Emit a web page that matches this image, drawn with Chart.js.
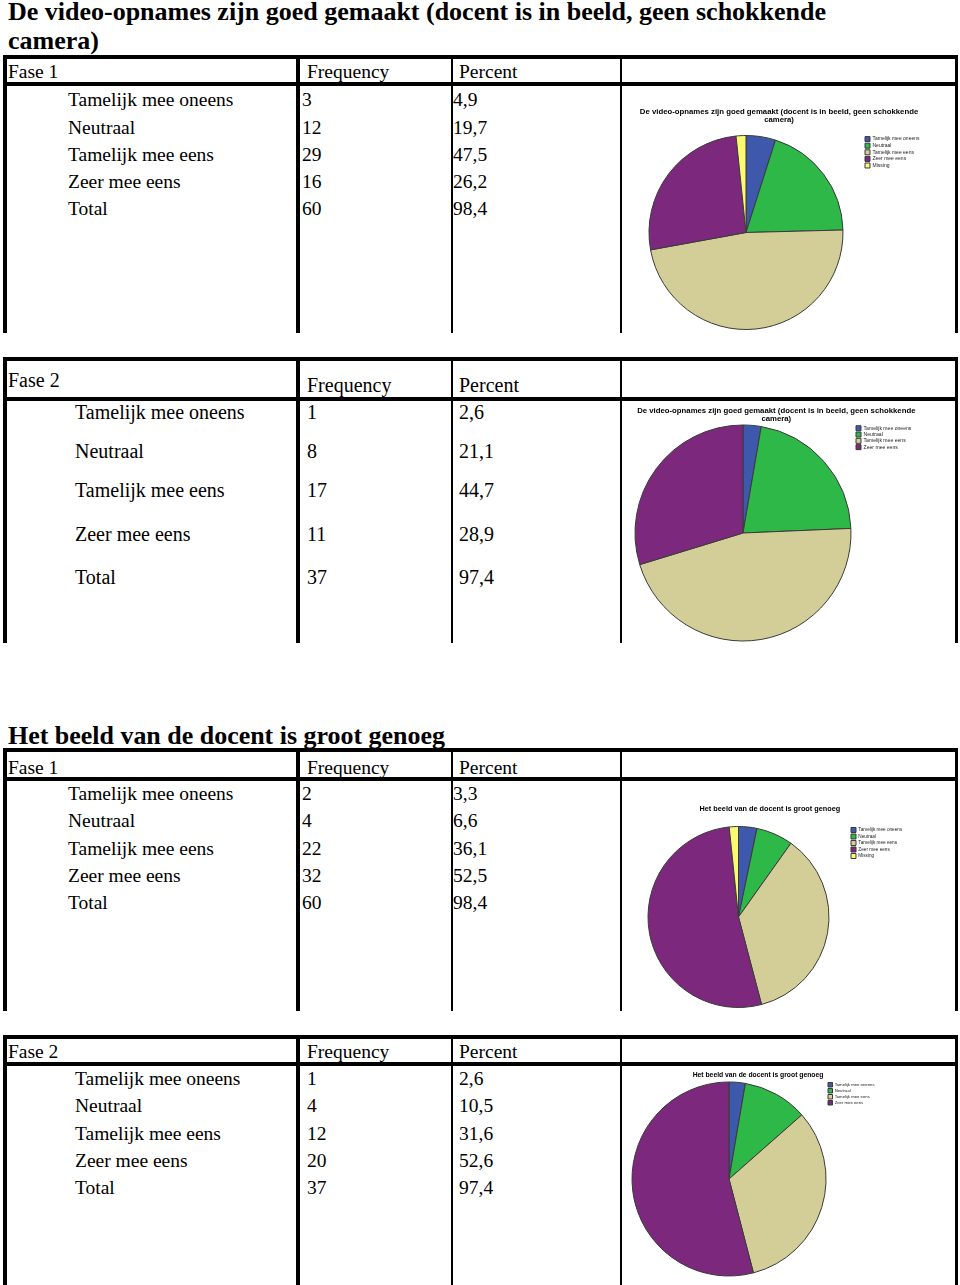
<!DOCTYPE html>
<html>
<head>
<meta charset="utf-8">
<script src="https://cdn.jsdelivr.net/npm/chart.js@4.4.1/dist/chart.umd.min.js"></script>
<style>
html, body { margin: 0; padding: 0; background: #fff; }
#page { position: relative; width: 960px; height: 1285px; overflow: hidden; }
.t { position: absolute; white-space: nowrap; line-height: 1; color: #000;
     font-family: "Liberation Serif", "Times New Roman", serif; transform-origin: 0 0; }
.h { font-weight: bold; }
.ln { position: absolute; background: #000; }
canvas { position: absolute; }
</style>
</head>
<body>
<div id="page"></div>
<script>
// antwoordcategorieën
const categories = ['Tamelijk mee oneens', 'Neutraal', 'Tamelijk mee eens', 'Zeer mee eens'];
const missingLabel = 'Missing';
const totalLabel = 'Total';
const headerFreq = 'Frequency';
const headerPct = 'Percent';

const question1 = ['De video-opnames zijn goed gemaakt (docent is in beeld, geen schokkende', 'camera)'];
const question2 = ['Het beeld van de docent is groot genoeg'];

// vraag 1 - fase 1
const q1f1Freq = [3, 12, 29, 16];
const q1f1Pct = [4.9, 19.7, 47.5, 26.2];
const q1f1Total = [60, 98.4];
const q1f1Missing = 1;

// vraag 1 - fase 2
const q1f2Freq = [1, 8, 17, 11];
const q1f2Pct = [2.6, 21.1, 44.7, 28.9];
const q1f2Total = [37, 97.4];

// vraag 2 - fase 1
const q2f1Freq = [2, 4, 22, 32];
const q2f1Pct = [3.3, 6.6, 36.1, 52.5];
const q2f1Total = [60, 98.4];
const q2f1Missing = 1;

// vraag 2 - fase 2
const q2f2Freq = [1, 4, 12, 20];
const q2f2Pct = [2.6, 10.5, 31.6, 52.6];
const q2f2Total = [37, 97.4];

// SPSS kleuren
const sliceColors = ['#3e58ac', '#2eb848', '#d3ce97', '#7c287d', '#fbf873'];

const page = document.getElementById('page');
const measureCtx = document.createElement('canvas').getContext('2d');

function fmt(v) {
    return String(v).replace('.', ',');
}

function fitFont(text, weight, family, width) {
    measureCtx.font = weight + ' 100px "' + family + '"';
    return 100 * width / measureCtx.measureText(text).width;
}

function addText(str, x, baseline, fs, bold) {
    const el = document.createElement('div');
    el.className = 't' + (bold ? ' h' : '');
    el.textContent = str;
    el.style.fontSize = fs + 'px';
    el.style.left = x + 'px';
    el.style.top = (baseline - 0.8375 * fs) + 'px';
    page.appendChild(el);
    return el;
}

function addLine(x, y, w, h) {
    const el = document.createElement('div');
    el.className = 'ln';
    el.style.left = x + 'px';
    el.style.top = y + 'px';
    el.style.width = w + 'px';
    el.style.height = h + 'px';
    page.appendChild(el);
}

function drawPie(s) {
    const p = s.pie;
    const canvasLeft = 622;
    const canvasTop = s.hdrLine + 4;
    const W = 333, H = s.end - canvasTop;
    const canvas = document.createElement('canvas');
    canvas.width = W;
    canvas.height = H;
    canvas.style.left = canvasLeft + 'px';
    canvas.style.top = canvasTop + 'px';
    page.appendChild(canvas);

    const labels = categories.slice();
    const data = s.freq.slice();
    if (s.missing !== undefined) {
        labels.push(missingLabel);
        data.push(s.missing);
    }

    const titleSize = fitFont(s.title[0], 'bold', 'Liberation Sans', p.titleWidth);
    const lineH = p.titleLineGap || titleSize * 1.2;
    const titleTop = p.titleMid - lineH / 2;
    const areaTop = p.cy - p.r - 0.5;
    const areaBottom = p.cy + p.r + 0.5;
    const legendSize = fitFont(categories[0], '', 'Liberation Sans', p.legendTextWidth);
    const legendPad = p.legendGap - Math.max(p.box, legendSize);
    const padTop = titleTop - canvasTop;
    const padBottom = canvasTop + H - areaBottom;

    const chart = new Chart(canvas.getContext('2d'), {
        type: 'pie',
        data: {
            labels: labels,
            datasets: [{
                data: data,
                backgroundColor: sliceColors.slice(0, data.length),
                borderColor: '#3a3a3a',
                borderWidth: 1
            }]
        },
        options: {
            responsive: false,
            animation: false,
            layout: { padding: { top: padTop, bottom: padBottom, left: 0, right: 0 } },
            plugins: {
                tooltip: { enabled: false },
                title: {
                    display: true,
                    text: s.title,
                    color: '#000',
                    font: { family: 'Liberation Sans', weight: 'bold', size: titleSize, lineHeight: lineH / titleSize },
                    padding: { top: 0, bottom: areaTop - titleTop - s.title.length * lineH }
                },
                legend: {
                    position: 'right',
                    align: 'start',
                    fullSize: false,
                    labels: {
                        boxWidth: p.box,
                        boxHeight: p.box,
                        padding: legendPad,
                        color: '#222',
                        font: { family: 'Liberation Sans', size: legendSize }
                    }
                }
            }
        }
    });

    // taart op de juiste plek zetten, legenda ernaast
    const lw = chart.legend.width;
    const areaRight = p.legendX - canvasLeft - legendPad;
    const areaLeft = 2 * (p.cx - canvasLeft) - areaRight;
    chart.options.layout.padding = { top: padTop, bottom: padBottom, left: areaLeft, right: W - areaRight - lw };
    chart.update();
}

function drawSection(s) {
    if (s.heading) {
        s.heading.forEach(function(line, i) {
            const el = addText(line, 8, s.headingBase[i], 26, true);
            if (i === 0) s.headingScale = s.headingWidth / el.getBoundingClientRect().width;
            el.style.transform = 'scaleX(' + s.headingScale + ')';
        });
    }

    addLine(3, s.top, 955, 4);
    addLine(3, s.hdrLine, 955, 4);
    const h = s.end - s.top;
    addLine(3, s.top, 4, h);
    addLine(296, s.top, 4, h);
    addLine(451, s.top, 2, h);
    addLine(620, s.top, 2, h);
    addLine(955, s.top, 3, h);

    addText(s.fase, 8, s.hdrBase[0], s.fs);
    addText(headerFreq, 307, s.hdrBase[1], s.fs);
    addText(headerPct, 459, s.hdrBase[1], s.fs);

    const rowLabels = categories.concat([totalLabel]);
    const freqs = s.freq.concat([s.total[0]]);
    const pcts = s.pct.concat([s.total[1]]);
    rowLabels.forEach(function(lab, i) {
        addText(lab, s.labelX, s.rowBase[i], s.fs);
        addText(String(freqs[i]), s.freqX, s.rowBase[i], s.fs);
        addText(fmt(pcts[i]), s.pctX, s.rowBase[i], s.fs);
    });

    drawPie(s);
}

const sections = [
    {
        heading: question1, headingBase: [21, 50], headingWidth: 818,
        title: question1, fase: 'Fase 1', freq: q1f1Freq, pct: q1f1Pct, total: q1f1Total, missing: q1f1Missing,
        top: 55, hdrLine: 82, end: 333, fs: 19.5, hdrBase: [78, 78],
        rowBase: [106, 134, 161, 188, 215], labelX: 68, freqX: 302, pctX: 453,
        pie: { titleWidth: 279, titleMid: 112, titleLineGap: 8, cx: 746, cy: 232.5, r: 97,
               legendX: 865, legendTextWidth: 47, legendGap: 6.6, box: 5 }
    },
    {
        title: question1, fase: 'Fase 2', freq: q1f2Freq, pct: q1f2Pct, total: q1f2Total,
        top: 357, hdrLine: 397, end: 643, fs: 20, hdrBase: [387, 392],
        rowBase: [419, 458, 497, 541, 584], labelX: 75, freqX: 307, pctX: 459,
        pie: { titleWidth: 279, titleMid: 411, titleLineGap: 8, cx: 743, cy: 533, r: 108,
               legendX: 856, legendTextWidth: 48, legendGap: 6.3, box: 5 }
    },
    {
        heading: question2, headingBase: [745], headingWidth: 437,
        title: question2, fase: 'Fase 1', freq: q2f1Freq, pct: q2f1Pct, total: q2f1Total, missing: q2f1Missing,
        top: 748, hdrLine: 777, end: 1011, fs: 19.5, hdrBase: [774, 774],
        rowBase: [800, 827, 855, 882, 909], labelX: 68, freqX: 302, pctX: 453,
        pie: { titleWidth: 141, titleMid: 809, cx: 738.5, cy: 917, r: 90.5,
               legendX: 851, legendTextWidth: 44, legendGap: 6.5, box: 5 }
    },
    {
        title: question2, fase: 'Fase 2', freq: q2f2Freq, pct: q2f2Pct, total: q2f2Total,
        top: 1035, hdrLine: 1062, end: 1285, fs: 19.5, hdrBase: [1058, 1058],
        rowBase: [1085, 1112, 1140, 1167, 1194], labelX: 75, freqX: 307, pctX: 459,
        pie: { titleWidth: 131, titleMid: 1075, cx: 729, cy: 1179, r: 97.5,
               legendX: 828, legendTextWidth: 40, legendGap: 6, box: 4.5 }
    }
];

sections.forEach(drawSection);
</script>
</body>
</html>
